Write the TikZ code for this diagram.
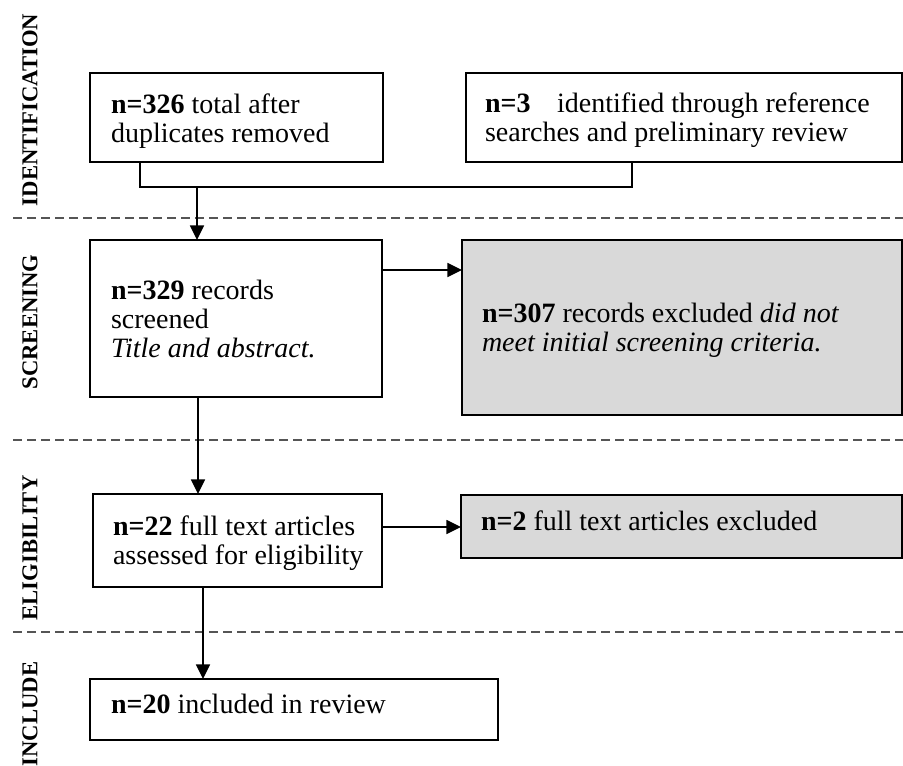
\documentclass[tikz,border=0pt]{standalone}
\usepackage{fontspec}
\setmainfont{Liberation Serif}
\usetikzlibrary{arrows.meta}
\definecolor{boxgray}{HTML}{D9D9D9}
\definecolor{dashgray}{HTML}{555555}
\begin{document}
\begin{tikzpicture}[x=0.75pt,y=-0.75pt,
  box/.style={draw=black,line width=1.2pt,inner sep=0pt,outer sep=0pt},
  greybox/.style={box,fill=boxgray},
  txt/.style={inner sep=0pt,outer sep=0pt,align=left,font=\fontsize{21}{21.75}\selectfont},
  phase/.style={rotate=90,inner sep=0pt,font=\fontsize{17}{17}\selectfont\bfseries},
  arr/.style={line width=1.2pt,-{Triangle[length=11pt,width=10.5pt]}},
  conn/.style={line width=1.2pt},
  sep/.style={dashgray,line width=0.8pt,dash pattern=on 6.75pt off 3.75pt}]
\useasboundingbox (0,0) rectangle (903,765);
% phase separators
\draw[sep] (13,218) -- (903,218);
\draw[sep] (13,440) -- (903,440);
\draw[sep] (13,632) -- (903,632);
% phase labels
\node[phase] (pid) at (30,110) {IDENTIFICATION};
\node[phase] (psc) at (30,322) {SCREENING};
\node[phase] (pel) at (30,548) {ELIGIBILITY};
\node[phase] (pin) at (30,714) {INCLUDE};
% boxes
\node[box,minimum width=219.75pt,minimum height=66.75pt] (b1) at (236.5,117.5) {};
\node[box,minimum width=327pt,minimum height=66.75pt] (b2) at (684,117.5) {};
\node[box,minimum width=219pt,minimum height=117.75pt] (b3) at (236,318.5) {};
\node[greybox,minimum width=330pt,minimum height=131.25pt] (b4) at (682,327.5) {};
\node[box,minimum width=216.75pt,minimum height=69.75pt] (b5) at (237.5,540.5) {};
\node[greybox,minimum width=330.75pt,minimum height=47.25pt] (b6) at (681.5,526.5) {};
\node[box,minimum width=306pt,minimum height=45.75pt] (b7) at (294,709.5) {};
% texts (anchored at the baseline of the last line)
\node[txt,anchor=base west] (t1) at (111,142) {\textbf{n=326} total after\\duplicates removed};
\node[txt,anchor=base west] (t2) at (485,141) {\textbf{n=3}\hspace{0.95em}identified through reference\\searches and preliminary review};
\node[txt,anchor=base west] (t3) at (111,357) {\textbf{n=329} records\\screened\\\textit{Title and abstract.}};
\node[txt,anchor=base west] (t4) at (482,351) {\textbf{n=307} records excluded \textit{did not}\\\textit{meet initial screening criteria.}};
\node[txt,anchor=base west] (t5) at (113,564) {\textbf{n=22} full text articles\\assessed for eligibility};
\node[txt,anchor=base west] (t6) at (481,530) {\textbf{n=2} full text articles excluded};
\node[txt,anchor=base west] (t7) at (111,713) {\textbf{n=20} included in review};
% connectors
\coordinate (m1) at (140,187);
\coordinate (m2) at (632,187);
\coordinate (j) at (197,187);
\coordinate (a1) at (382,270);
\coordinate (a2) at (198,400);
\coordinate (a3) at (382,527);
\coordinate (a4) at (203,600);
\draw[conn] (b1.south -| m1) -- (m1) -- (m2) -- (b2.south -| m2);
\draw[arr] (j) -- (b3.north -| j);
\draw[arr] (b3.east |- a1) -- (b4.west |- a1);
\draw[arr] (b3.south -| a2) -- (b5.north -| a2);
\draw[arr] (b5.east |- a3) -- (b6.west |- a3);
\draw[arr] (b5.south -| a4) -- (b7.north -| a4);
\end{tikzpicture}
\end{document}
